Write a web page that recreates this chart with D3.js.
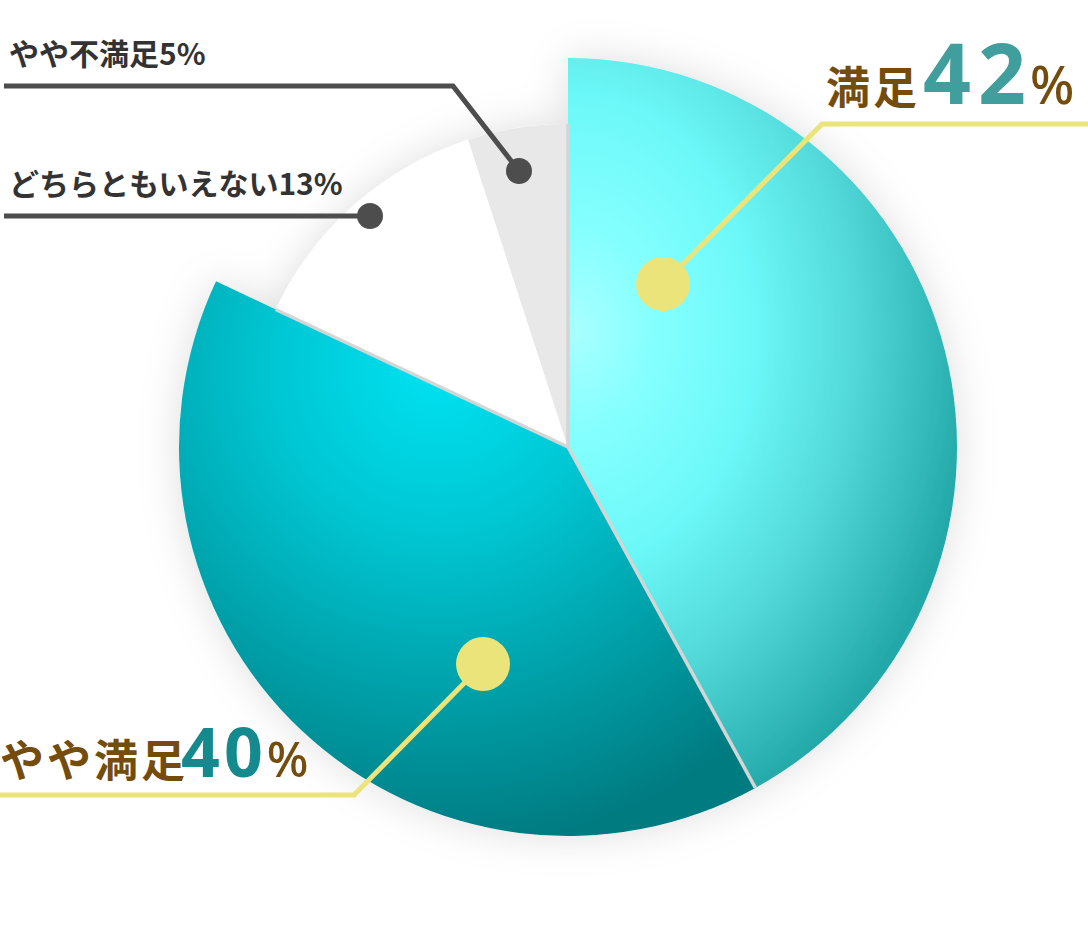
<!DOCTYPE html>
<html>
<head>
<meta charset="utf-8">
<script src="https://cdn.jsdelivr.net/npm/d3@7"></script>
<style>
  body { margin: 0; background: #fff; }
  svg { display: block; font-family: "Noto Sans CJK JP", "Noto Sans", sans-serif; }
</style>
</head>
<body>
<div id="chart"></div>
<script>
// data
const categories = ["満足", "やや満足", "どちらともいえない", "やや不満足"];
const values = [42, 40, 13, 5];
const fills = ["url(#gradSat)", "url(#gradSome)", "#ffffff", "#e8e8e8"];
const bigSlice = [true, true, false, false];

const width = 1088, height = 939;
const cx = 568, cy = 447;
const rBig = 389, rSmall = 323;

const svg = d3.select("#chart").append("svg")
    .attr("width", width)
    .attr("height", height);

const defs = svg.append("defs");

// soft grey glow under the pie
const filter = defs.append("filter").attr("id", "glow")
    .attr("x", "-30%").attr("y", "-30%").attr("width", "160%").attr("height", "160%");
filter.append("feGaussianBlur").attr("in", "SourceAlpha").attr("stdDeviation", 20).attr("result", "blur");
filter.append("feFlood").attr("flood-color", "#000").attr("flood-opacity", 0.13);
filter.append("feComposite").attr("in2", "blur").attr("operator", "in").attr("result", "shadow");
const merge = filter.append("feMerge");
merge.append("feMergeNode").attr("in", "shadow");
merge.append("feMergeNode").attr("in", "SourceGraphic");

// gradient coords are relative to the pie centre
const gSat = defs.append("radialGradient").attr("id", "gradSat")
    .attr("gradientUnits", "userSpaceOnUse")
    .attr("cx", 0).attr("cy", 0).attr("r", 1)
    .attr("gradientTransform", "translate(7,-117) scale(400,520)");
gSat.append("stop").attr("offset", "0%").attr("stop-color", "#a8ffff");
gSat.append("stop").attr("offset", "20%").attr("stop-color", "#84ffff");
gSat.append("stop").attr("offset", "45%").attr("stop-color", "#6cf8f8");
gSat.append("stop").attr("offset", "70%").attr("stop-color", "#52d8d8");
gSat.append("stop").attr("offset", "88%").attr("stop-color", "#36bcbc");
gSat.append("stop").attr("offset", "100%").attr("stop-color", "#24a8a8");

const gSome = defs.append("radialGradient").attr("id", "gradSome")
    .attr("gradientUnits", "userSpaceOnUse")
    .attr("cx", -130).attr("cy", -80).attr("r", 480);
gSome.append("stop").attr("offset", "0%").attr("stop-color", "#00e2f2");
gSome.append("stop").attr("offset", "35%").attr("stop-color", "#00c6d2");
gSome.append("stop").attr("offset", "100%").attr("stop-color", "#007b81");

const pie = d3.pie().sort(null).value(d => d)(values);
const arc = d3.arc().innerRadius(0)
    .outerRadius(d => bigSlice[d.index] ? rBig : rSmall);

const pieG = svg.append("g")
    .attr("transform", `translate(${cx},${cy})`)
    .attr("filter", "url(#glow)");

pieG.selectAll("path.slice")
    .data(pie)
    .join("path")
    .attr("class", "slice")
    .attr("d", arc)
    .attr("fill", (d, i) => fills[i]);

// separator lines between slices (none between white and grey)
const bounds = pie.map((d, i) => {
    const prev = pie[(i + pie.length - 1) % pie.length];
    const r = Math.min(bigSlice[i] ? rBig : rSmall, bigSlice[prev.index] ? rBig : rSmall);
    return { angle: d.startAngle, r: r, show: i !== 3 };
}).filter(d => d.show);

pieG.selectAll("line.sep")
    .data(bounds)
    .join("line")
    .attr("class", "sep")
    .attr("x1", 0).attr("y1", 0)
    .attr("x2", d => d.r * Math.sin(d.angle))
    .attr("y2", d => -d.r * Math.cos(d.angle))
    .attr("stroke", "#d5d5d5")
    .attr("stroke-width", 3.5);

// callouts
const callouts = [
    { dot: [663, 284], corner: [822, 124], end: [1088, 124], color: "#ebe47a", r: 27, w: 5 },
    { dot: [483, 664], corner: [354, 795], end: [0, 795], color: "#ebe47a", r: 27, w: 5 },
    { dot: [370, 216], corner: [370, 216], end: [4, 216], color: "#4d4d4d", r: 13, w: 5 },
    { dot: [519, 171], corner: [453, 86], end: [4, 86], color: "#4d4d4d", r: 13, w: 5 }
];

svg.selectAll("polyline.callout")
    .data(callouts)
    .join("polyline")
    .attr("class", "callout")
    .attr("points", d => [d.dot, d.corner, d.end].map(p => p.join(",")).join(" "))
    .attr("fill", "none")
    .attr("stroke", d => d.color)
    .attr("stroke-width", d => d.w);

svg.selectAll("circle.dot")
    .data(callouts)
    .join("circle")
    .attr("class", "dot")
    .attr("cx", d => d.dot[0])
    .attr("cy", d => d.dot[1])
    .attr("r", d => d.r)
    .attr("fill", d => d.color);

// big labels
const brown = "#744c0c";
function bigLabel(x, y, i, numColor, numSize, numDx, numLs, pctSize, pctDx) {
    const t = svg.append("text").attr("x", x).attr("y", y).attr("font-weight", 700);
    t.append("tspan").text(categories[i]).attr("fill", brown).attr("font-size", 44).attr("letter-spacing", 3);
    t.append("tspan").text(values[i]).attr("fill", numColor).attr("font-size", numSize)
        .attr("dx", numDx).attr("letter-spacing", numLs).attr("font-family", "'Noto Sans', sans-serif");
    t.append("tspan").text("%").attr("fill", brown).attr("font-size", pctSize).attr("font-weight", 500)
        .attr("dx", pctDx).attr("font-family", "'Noto Sans', sans-serif");
}
bigLabel(826, 104, 0, "#409e9c", 84, 3, 7, 52, -3);
bigLabel(0, 777, 1, "#148a8e", 68, -7, 4, 49, 0);

// small labels
svg.append("text").attr("x", 9).attr("y", 65)
    .attr("font-size", 30).attr("font-weight", 700).attr("fill", "#333")
    .text(categories[3] + values[3] + "%");
svg.append("text").attr("x", 9).attr("y", 195)
    .attr("font-size", 30).attr("font-weight", 700).attr("fill", "#333")
    .text(categories[2] + values[2] + "%");
</script>
</body>
</html>
